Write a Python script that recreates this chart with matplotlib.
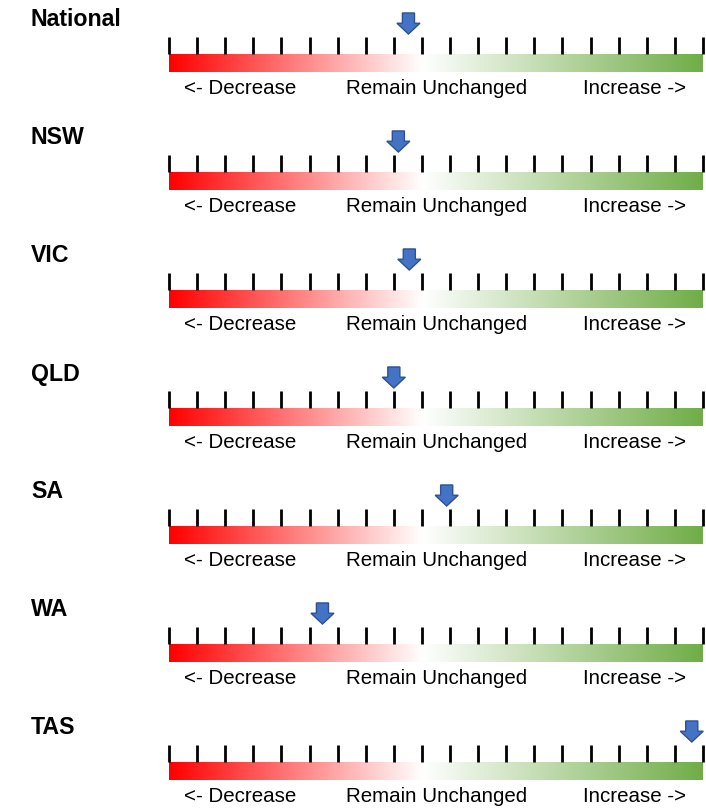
import numpy as np
import matplotlib
matplotlib.use("Agg")
import matplotlib.pyplot as plt
from matplotlib.colors import LinearSegmentedColormap

plt.rcParams['font.family'] = ['Liberation Sans', 'DejaVu Sans']

# regions and where the arrow sits on the 0..19 scale
regions = ["National", "NSW", "VIC", "QLD", "SA", "WA", "TAS"]
arrow_vals = [8.52, 8.16, 8.55, 8.0, 9.88, 5.46, 18.6]
tick_vals = list(range(20))
scale_labels = ["<- Decrease", "Remain Unchanged", "Increase ->"]
label_pos = [2.53, 9.52, 16.55]

W, H = 706, 808
fig = plt.figure(figsize=(W / 100, H / 100), dpi=100)

cmap = LinearSegmentedColormap.from_list(
    "redgreen", [(0.0, "#ff0000"), (0.475, "#ffffff"), (1.0, "#70ad47")])
grad = np.linspace(0, 1, 512).reshape(1, -1)

for i, (name, val) in enumerate(zip(regions, arrow_vals)):
    top = 54 + 118 * i
    ax = fig.add_axes([169 / W, 1 - (top + 18) / H, 534 / W, 18 / H])
    ax.set_xlim(0, 19)
    ax.set_ylim(0, 1)
    ax.axis("off")

    # gradient bar
    ax.imshow(grad, cmap=cmap, extent=[0, 19, 0, 1], aspect="auto")

    # tick marks above the bar
    ax.vlines(tick_vals, 1.0, 1.95, color="black", lw=2, clip_on=False)

    # blue pointer
    ax.arrow(val, 3.28, 0, -1.17, width=0.43, head_width=0.82,
             head_length=0.6, length_includes_head=True,
             fc="#4472c4", ec="#2f528f", lw=1, clip_on=False)

    for lab, x in zip(scale_labels, label_pos):
        ax.text(x, -0.94, lab, ha="center", va="center", fontsize=14.8,
                color="black", clip_on=False)

    fig.text(31 / W, 1 - (20 + 118 * i) / H, name, ha="left", va="center",
             fontsize=16.7, fontweight="bold")

fig.savefig("out.png", dpi=100)
